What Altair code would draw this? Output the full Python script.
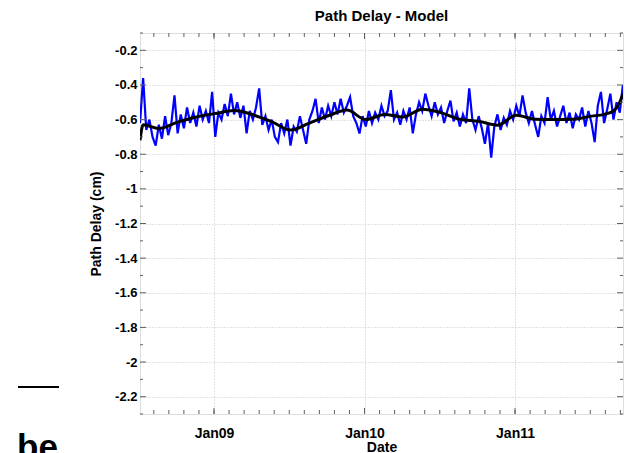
import altair as alt
import pandas as pd

# ---------------- data ----------------
title_text = "Path Delay - Model"
y_title = "Path Delay (cm)"
x_title = "Date"

start_time = "2012-01-08 12:12:00"
domain_start = "2012-01-08 12:12:00"
domain_end = "2012-01-11 17:13:00"

# blue: model path delay (cm), every 30 minutes from start_time
blue_vals = [
    -0.62, -0.36, -0.66, -0.60, -0.70, -0.75, -0.63, -0.71, -0.58, -0.69,
    -0.62, -0.46, -0.68, -0.57, -0.65, -0.53, -0.62, -0.56, -0.64, -0.52,
    -0.60, -0.55, -0.62, -0.44, -0.70, -0.56, -0.60, -0.51, -0.58, -0.45,
    -0.57, -0.50, -0.59, -0.52, -0.68, -0.55, -0.60, -0.53, -0.42, -0.63,
    -0.58, -0.66, -0.60, -0.70, -0.73, -0.62, -0.68, -0.60, -0.75, -0.64,
    -0.67, -0.58, -0.66, -0.74, -0.60, -0.55, -0.48, -0.62, -0.53, -0.60,
    -0.52, -0.58, -0.50, -0.57, -0.48, -0.56, -0.52, -0.47, -0.58, -0.62,
    -0.68, -0.58, -0.64, -0.55, -0.62, -0.56, -0.60, -0.52, -0.58, -0.55,
    -0.43, -0.60, -0.56, -0.63, -0.55, -0.60, -0.53, -0.68, -0.57, -0.50,
    -0.55, -0.45, -0.52, -0.58, -0.50, -0.57, -0.53, -0.62, -0.55, -0.49,
    -0.61, -0.56, -0.64, -0.57, -0.62, -0.42, -0.60, -0.66, -0.58, -0.65,
    -0.74, -0.62, -0.82, -0.64, -0.57, -0.66, -0.59, -0.63, -0.55, -0.60,
    -0.52, -0.58, -0.46, -0.56, -0.62, -0.55, -0.63, -0.70, -0.58, -0.62,
    -0.47, -0.60, -0.55, -0.64, -0.58, -0.52, -0.62, -0.56, -0.65, -0.57,
    -0.60, -0.53, -0.64, -0.55, -0.62, -0.73, -0.52, -0.44, -0.62, -0.54,
    -0.45, -0.60, -0.50, -0.56, -0.40,
]

# black: smoothed series, hours after start_time
smooth_hours = [0, 0.5, 3, 6, 9, 12, 15, 18, 21, 24, 27, 30, 33, 36, 39, 42,
                45, 48, 51, 54, 57, 60, 63, 66, 69, 72, 74, 75.5, 76.5, 77]
smooth_vals = [-0.72, -0.63, -0.652, -0.615, -0.585, -0.565, -0.548, -0.572,
               -0.612, -0.66, -0.62, -0.578, -0.545, -0.60, -0.57, -0.585,
               -0.54, -0.56, -0.598, -0.61, -0.632, -0.575, -0.598, -0.60,
               -0.598, -0.58, -0.57, -0.55, -0.50, -0.45]

x_major = ["2012-01-09 00:00:00", "2012-01-10 00:00:00", "2012-01-11 00:00:00"]
y_major = [-2.2, -2.0, -1.8, -1.6, -1.4, -1.2, -1.0, -0.8, -0.6, -0.4, -0.2]
y_minor = [-2.3, -2.1, -1.9, -1.7, -1.5, -1.3, -1.1, -0.9, -0.7, -0.5, -0.3, -0.1]

# ---------------- tables ----------------
fmt = "%Y-%m-%dT%H:%M:%S"
blue_times = pd.date_range(start_time, periods=len(blue_vals), freq="30min")
df_blue = pd.DataFrame({"time": blue_times.strftime(fmt), "value": blue_vals})
smooth_times = pd.Timestamp(start_time) + pd.to_timedelta(smooth_hours, unit="h")
df_smooth = pd.DataFrame({"time": smooth_times.strftime(fmt), "value": smooth_vals})

x_minor_times = pd.date_range("2012-01-08 14:24:00", "2012-01-11 16:48:00", freq="144min")
df_xminor = pd.DataFrame({"time": x_minor_times.strftime(fmt)})
df_xmajor = pd.DataFrame({"time": pd.to_datetime(x_major).strftime(fmt)})
df_ymajor = pd.DataFrame({"value": y_major})
df_yminor = pd.DataFrame({"value": y_minor})

W, H = 483, 381


def dt(s):
    t = pd.Timestamp(s)
    return alt.DateTime(year=t.year, month=t.month, date=t.day,
                        hours=t.hour, minutes=t.minute)


xscale = alt.Scale(domain=[dt(domain_start), dt(domain_end)])
yscale = alt.Scale(domain=[-2.3, -0.1], nice=False, zero=False)

FONT = "Liberation Sans"
COMMON = dict(grid=True, gridColor="#c4c4c4", gridDash=[1, 2], gridWidth=1,
              ticks=False, domain=False, labelFont=FONT, titleFont=FONT,
              labelFontWeight="bold", titleFontWeight="bold",
              labelColor="#000000", titleColor="#000000")

x_axis = alt.Axis(values=[dt(s) for s in x_major], format="%b%d", title=x_title,
                  labelPadding=12, titlePadding=0, labelFontSize=14,
                  titleFontSize=14, **COMMON)
y_axis = alt.Axis(values=y_major, labelExpr="'' + datum.value", title=y_title,
                  labelPadding=3, titlePadding=11, labelFontSize=13,
                  titleFontSize=14, **COMMON)

X = lambda: alt.X("time:T", scale=xscale, axis=x_axis, title=x_title)
Y = lambda: alt.Y("value:Q", scale=yscale, axis=y_axis, title=y_title)

blue = alt.Chart(df_blue).mark_line(color="#0000ff", strokeWidth=2.2, clip=True).encode(
    x=X(), y=Y())

black = alt.Chart(df_smooth).mark_line(color="#000000", strokeWidth=3,
                                       interpolate="monotone", clip=True).encode(
    x=X(), y=Y())

TICK = "#606060"


def ytick(df, x0, x1):
    return alt.Chart(df).mark_rule(color=TICK, strokeWidth=1).encode(
        y=Y(), x=alt.value(x0), x2=alt.value(x1))


def xtick(df, y0, y1):
    return alt.Chart(df).mark_rule(color=TICK, strokeWidth=1).encode(
        x=X(), y=alt.value(y0), y2=alt.value(y1))


ticks = [
    ytick(df_ymajor, 0, 6), ytick(df_ymajor, W - 6, W),
    ytick(df_yminor, 0, 3), ytick(df_yminor, W - 3, W),
    xtick(df_xminor, H - 4, H), xtick(df_xminor, 0, 4),
    xtick(df_xmajor, H - 6, H), xtick(df_xmajor, 0, 6),
]

dummy = pd.DataFrame({"t": ["be"]})
stray_line = alt.Chart(dummy).mark_rule(color="#000000", strokeWidth=2).encode(
    x=alt.value(-122), x2=alt.value(-81), y=alt.value(354))
stray_text = alt.Chart(dummy).mark_text(
    font=FONT, fontSize=35, fontWeight="bold", align="left",
    baseline="alphabetic", color="#000000").encode(
    x=alt.value(-123), y=alt.value(426), text="t:N")

chart = alt.layer(blue, black, *ticks, stray_line, stray_text).properties(
    width=W, height=H,
    autosize=alt.AutoSizeParams(type="none"),
    padding={"left": 140, "top": 33, "right": 4, "bottom": 39},
    title=alt.Title(title_text, fontSize=15, font=FONT, fontWeight="bold",
                    anchor="middle", offset=9, color="#000000"),
).configure_view(
    stroke="#808080", strokeWidth=1
).configure(background="#ffffff")

chart.save("out.html", embed_options={"renderer": "svg", "actions": False})
